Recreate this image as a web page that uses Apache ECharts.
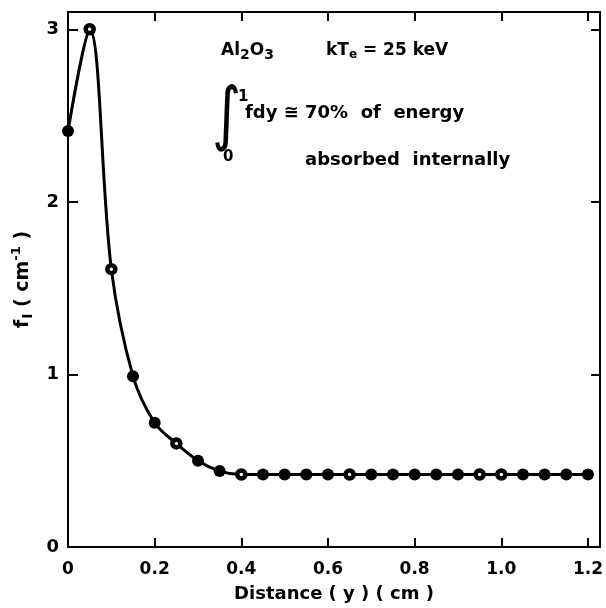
<!DOCTYPE html>
<html>
<head>
<meta charset="utf-8">
<script src="https://cdn.jsdelivr.net/npm/echarts@6/dist/echarts.min.js"></script>
<style>
  html, body { margin: 0; padding: 0; background: #fff; }
  #chart { width: 606px; height: 608px; }
</style>
</head>
<body>
<div id="chart"></div>
<script>
// distance y (cm) and f_I (cm^-1)
const distance = [0, 0.05, 0.1, 0.15, 0.2, 0.25, 0.3, 0.35, 0.4, 0.45, 0.5, 0.55, 0.6,
  0.65, 0.7, 0.75, 0.8, 0.85, 0.9, 0.95, 1.0, 1.05, 1.1, 1.15, 1.2];
const fValues = [2.41, 3.0, 1.61, 0.99, 0.72, 0.6, 0.5, 0.44, 0.42, 0.42, 0.42, 0.42, 0.42,
  0.42, 0.42, 0.42, 0.42, 0.42, 0.42, 0.42, 0.42, 0.42, 0.42, 0.42, 0.42];
// points drawn as open circles in the original
const hollowAt = [0.05, 0.1, 0.25, 0.4, 0.65, 0.95, 1.0];
const xTicks = [0, 0.2, 0.4, 0.6, 0.8, 1.0, 1.2];
const yTicks = [0, 1, 2, 3];

const FONT = 'DejaVu Sans';
const chart = echarts.init(document.getElementById('chart'));

const points = distance.map((x, i) => [x, fValues[i]]);
const isHollow = (x) => hollowAt.some((h) => Math.abs(h - x) < 1e-9);

const tickLabel = (v) => {
  const hit = xTicks.find((t) => Math.abs(t - v) < 1e-9);
  if (hit === undefined) return '';
  return hit === 0 ? '0' : hit.toFixed(1);
};

const baseAxis = {
  axisLine: { show: true, onZero: false, lineStyle: { color: '#000', width: 2 } },
  axisTick: { show: true, inside: true, length: 9, lineStyle: { color: '#000', width: 2 } },
  splitLine: { show: false },
};

const option = {
  animation: false,
  backgroundColor: '#fff',
  grid: { left: 68, right: 4, top: 12, bottom: 60, containLabel: false },
  xAxis: [
    {
      ...baseAxis,
      type: 'value',
      min: 0,
      max: 1.228,
      interval: 0.2,
      name: 'Distance ( y ) ( cm )',
      nameLocation: 'middle',
      nameGap: 38,
      nameTextStyle: { fontFamily: FONT, fontWeight: 'bold', fontSize: 18, color: '#000' },
      axisLabel: {
        showMaxLabel: false,
        margin: 14,
        fontFamily: FONT, fontWeight: 'bold', fontSize: 17, color: '#000',
        formatter: tickLabel,
      },
    },
    {
      ...baseAxis,
      type: 'value',
      position: 'top',
      min: 0,
      max: 1.228,
      interval: 0.2,
      axisLabel: { show: false },
    },
  ],
  yAxis: [
    {
      ...baseAxis,
      type: 'value',
      min: 0,
      max: 3.1,
      interval: 1,
      axisTick: { show: true, inside: true, length: 10, lineStyle: { color: '#000', width: 2 } },
      name: '{f|f}{sub|I}{f| ( cm}{sup|-1}{f| )}',
      nameLocation: 'middle',
      nameRotate: 90,
      nameGap: 24,
      nameTextStyle: {
        color: '#000',
        rich: {
          f: { fontFamily: FONT, fontWeight: 'bold', fontSize: 19, color: '#000' },
          sub: { fontFamily: FONT, fontWeight: 'bold', fontSize: 14, color: '#000', padding: [12, 0, 0, 1] },
          sup: { fontFamily: FONT, fontWeight: 'bold', fontSize: 13, color: '#000', padding: [0, 0, 12, 0] },
        },
      },
      axisLabel: {
        showMaxLabel: false,
        margin: 9,
        fontFamily: FONT, fontWeight: 'bold', fontSize: 18, color: '#000',
        formatter: (v) => (yTicks.includes(v) ? String(v) : ''),
      },
    },
    {
      ...baseAxis,
      type: 'value',
      position: 'right',
      min: 0,
      max: 3.1,
      interval: 1,
      axisLabel: { show: false },
    },
  ],
  graphic: [
    {
      type: 'text', left: 221, top: 42,
      style: {
        text: '{t|Al}{s|2}{t|O}{s|3}',
        rich: {
          t: { fontFamily: FONT, fontWeight: 'bold', fontSize: 17, fill: '#000' },
          s: { fontFamily: FONT, fontWeight: 'bold', fontSize: 14, fill: '#000', padding: [10, 0, 0, 0] },
        },
      },
    },
    {
      type: 'text', left: 326, top: 42,
      style: {
        text: '{t|kT}{s|e}{t| = 25 keV}',
        rich: {
          t: { fontFamily: FONT, fontWeight: 'bold', fontSize: 17, fill: '#000' },
          s: { fontFamily: FONT, fontWeight: 'bold', fontSize: 12, fill: '#000', padding: [8, 0, 0, 0] },
        },
      },
    },
    {
      type: 'text', x: 212, y: 84, scaleX: 1, scaleY: 1.25,
      style: { text: '\u222B', fontFamily: 'DejaVu Sans', fontSize: 56, fill: '#000' },
    },
    {
      type: 'text', left: 238, top: 90,
      style: { text: '1', fontFamily: FONT, fontWeight: 'bold', fontSize: 15, fill: '#000' },
    },
    {
      type: 'text', left: 223, top: 150,
      style: { text: '0', fontFamily: FONT, fontWeight: 'bold', fontSize: 15, fill: '#000' },
    },
    {
      type: 'text', left: 245, top: 104,
      style: { text: 'fdy \u2245 70%  of  energy', fontFamily: FONT, fontWeight: 'bold', fontSize: 18, fill: '#000' },
    },
    {
      type: 'text', left: 305, top: 151,
      style: { text: 'absorbed  internally', fontFamily: FONT, fontWeight: 'bold', fontSize: 18, fill: '#000' },
    },
  ],
  series: [
    {
      type: 'line',
      data: points,
      smooth: 0.35,
      symbol: 'none',
      lineStyle: { color: '#000', width: 3 },
      z: 2,
    },
    {
      type: 'scatter',
      data: points.filter((p) => !isHollow(p[0])),
      symbol: 'circle',
      symbolSize: 12,
      itemStyle: { color: '#000', opacity: 1 },
      z: 3,
    },
    {
      type: 'scatter',
      data: points.filter((p) => isHollow(p[0])),
      symbol: 'circle',
      symbolSize: 8,
      itemStyle: { color: '#fff', borderColor: '#000', borderWidth: 4.5, opacity: 1 },
      z: 4,
    },
  ],
};

chart.setOption(option);
</script>
</body>
</html>
